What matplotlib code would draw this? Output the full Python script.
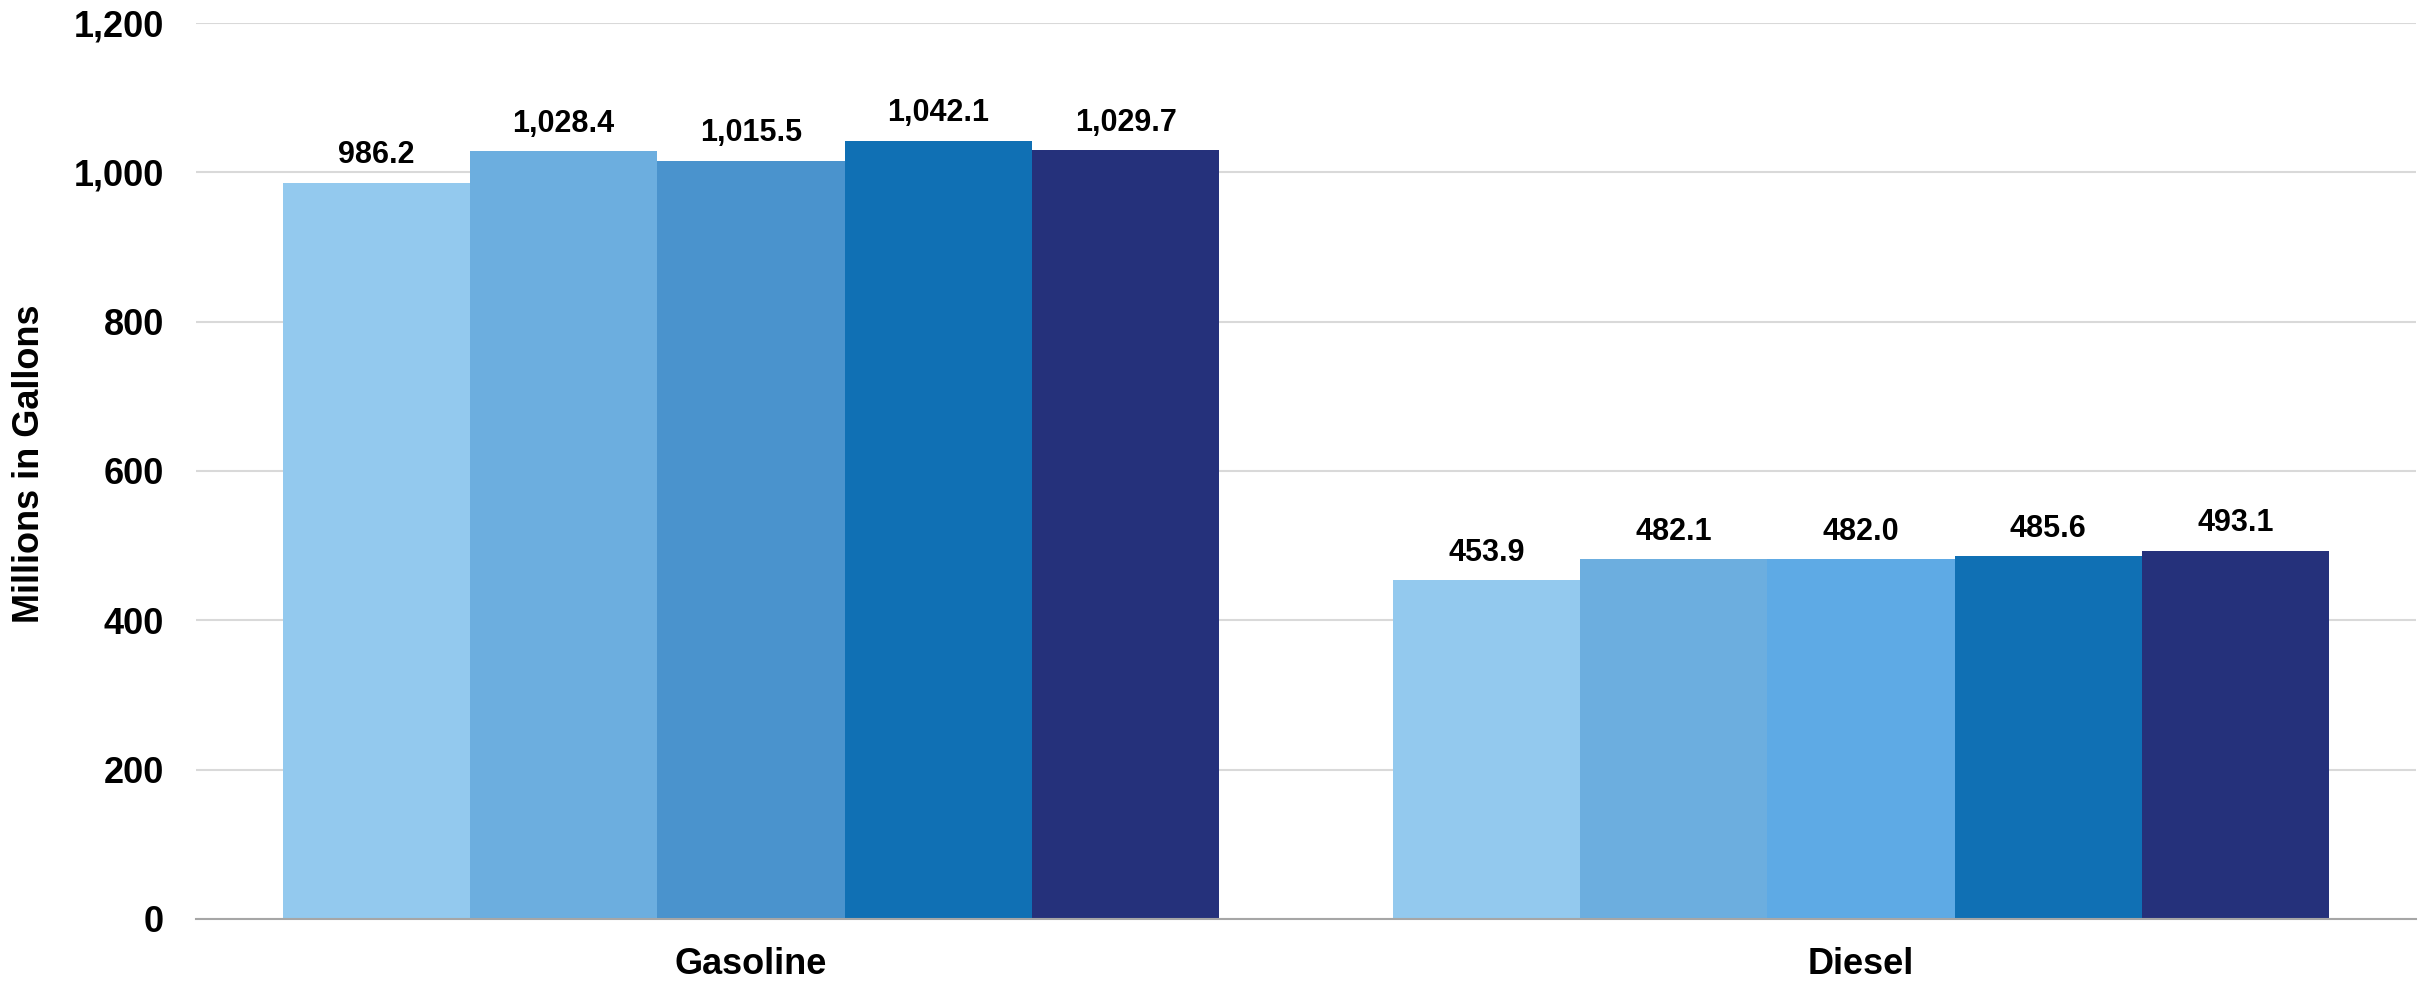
import matplotlib
matplotlib.use('Agg')
import matplotlib.pyplot as plt
from matplotlib.ticker import FuncFormatter
import numpy as np

plt.rcParams['font.family'] = ['Liberation Sans', 'DejaVu Sans']
plt.rcParams['font.weight'] = 'bold'

categories = ['Gasoline', 'Diesel']
gasoline = [986.2, 1028.4, 1015.5, 1042.1, 1029.7]
diesel = [453.9, 482.1, 482.0, 485.6, 493.1]
yticks = [0, 200, 400, 600, 800, 1000, 1200]

# colours per bar, the middle one differs between groups
gas_colors = ['#93C9EE', '#6CAEDF', '#4A93CD', '#1070B4', '#25317B']
die_colors = ['#93C9EE', '#6CAEDF', '#5EAAE5', '#1070B4', '#25317B']

fig = plt.figure(figsize=(24.3, 9.81), dpi=100)
ax = fig.add_axes([196 / 2430, 1 - 919 / 981, 2220 / 2430, 896 / 981])

width = 0.1688
centers = np.arange(len(categories))
offsets = (np.arange(5) - 2) * width

for vals, cols, c in [(gasoline, gas_colors, centers[0]), (diesel, die_colors, centers[1])]:
    xs = c + offsets
    ax.bar(xs, vals, width=width, color=cols, linewidth=0, zorder=3)
    for x, v in zip(xs, vals):
        ax.annotate(f'{v:,.1f}', (x, v), xytext=(0, 9), textcoords='offset points',
                    ha='center', va='bottom', fontsize=22, fontweight='bold', color='black')

ax.set_xlim(-0.5, 1.5)
ax.set_ylim(0, 1200)
ax.set_yticks(yticks)
ax.yaxis.set_major_formatter(FuncFormatter(lambda v, p: f'{int(v):,}'))
ax.set_xticks(centers)
ax.set_xticklabels(categories)

ax.grid(axis='y', color='#D9D9D9', linewidth=1.5, zorder=0)
ax.set_axisbelow(True)
for s in ['top', 'right', 'left']:
    ax.spines[s].set_visible(False)
ax.spines['bottom'].set_color('#A6A6A6')
ax.spines['bottom'].set_linewidth(1.5)
ax.spines['bottom'].set_zorder(4)

ax.tick_params(axis='y', length=0, pad=23, labelsize=26)
ax.tick_params(axis='x', length=0, pad=20, labelsize=26)
for lab in ax.get_xticklabels() + ax.get_yticklabels():
    lab.set_fontweight('bold')

fig.text(30 / 2430, 1 - 464 / 981, 'Millions in Gallons', rotation=90,
         ha='center', va='center', fontsize=26, fontweight='bold')

fig.savefig('out.png', dpi=100)
